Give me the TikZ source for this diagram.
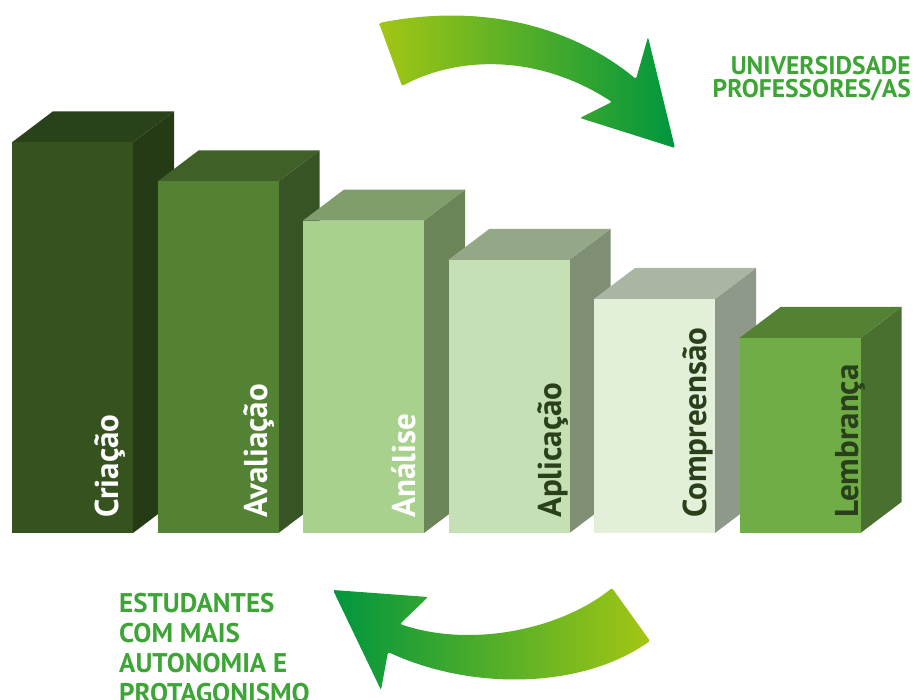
\documentclass[tikz,border=0pt]{standalone}
\usepackage{fontspec}
\setmainfont{PT Sans}
\usepackage{tikz}

\definecolor{verdeclaro}{HTML}{A3C614}
\definecolor{verdeforte}{HTML}{00963E}
\definecolor{verdetexto}{HTML}{3DA535}
\definecolor{escuro}{HTML}{29401A}

% cores dos blocos: frente, topo, lado
\definecolor{f1}{HTML}{36531F}\definecolor{t1}{HTML}{2A421A}\definecolor{l1}{HTML}{253B16}
\definecolor{f2}{HTML}{548235}\definecolor{t2}{HTML}{3F6128}\definecolor{l2}{HTML}{375524}
\definecolor{f3}{HTML}{A9D18E}\definecolor{t3}{HTML}{7F9E6B}\definecolor{l3}{HTML}{6B8558}
\definecolor{f4}{HTML}{C5E0B4}\definecolor{t4}{HTML}{94A887}\definecolor{l4}{HTML}{7E8F73}
\definecolor{f5}{HTML}{E2F0D9}\definecolor{t5}{HTML}{AAB5A3}\definecolor{l5}{HTML}{8F998A}
\definecolor{f6}{HTML}{70AD47}\definecolor{t6}{HTML}{548235}\definecolor{l6}{HTML}{4A702F}

% bloco: x esquerdo, y do topo, frente, topo, lado
\newcommand{\bloco}[5]{%
  \fill[#5] (#1+121,#2) -- ++(41,-31) -- (#1+162,502) -- (#1+121,533) -- cycle;
  \fill[#4] (#1,#2) -- ++(41,-31) -- ++(121,0) -- (#1+121,#2) -- cycle;
  \fill[#3] (#1,#2) rectangle (#1+121,533);
}

\begin{document}
\begin{tikzpicture}[x=1pt,y=-1pt,
  rotulo/.style={rotate=90, anchor=base west, inner sep=0pt, font=\fontsize{33}{33}\selectfont\bfseries},
  legenda/.style={inner sep=0pt, text=verdetexto, font=\fontsize{25.5}{24}\selectfont\bfseries},
  seta/.style={rounded corners=2pt}]

	\useasboundingbox (0,0) rectangle (916,700);
	
	\bloco{12}{142.3}{f1}{t1}{l1}
	\bloco{157.5}{181.5}{f2}{t2}{l2}
	\bloco{303}{220.6}{f3}{t3}{l3}
	\bloco{448.5}{259.8}{f4}{t4}{l4}
	\bloco{594}{299}{f5}{t5}{l5}
	\bloco{739.5}{338}{f6}{t6}{l6}
	
	\node[rotulo, text=white] (criacao) at (118.3,518) {Criação};
	\node[rotulo, text=white] (avaliacao) at (267.7,518) {Avaliação};
	\node[rotulo, text=white] (analise) at (415,518) {Análise};
	\node[rotulo, text=escuro] (aplicacao) at (561.7,518) {Aplicação};
	\node[rotulo, text=escuro] (compreensao) at (706.7,518) {Compreensão};
	\node[rotulo, text=escuro] (lembranca) at (858.3,518) {Lembrança};
	
	% setas
	\shade[seta, left color=verdeclaro, right color=verdeforte]
	  (379,23) .. controls (480,3) and (570,25) .. (636,79) -- (648,37) -- (675,148)
	  -- (580,118) -- (612,102) .. controls (540,55) and (460,55) .. (402,86) -- cycle;
	\shade[seta, left color=verdeforte, right color=verdeclaro]
	  (333,590) -- (428,597) -- (400,624) .. controls (470,648) and (560,630) .. (612,588)
	  -- (650,641) .. controls (580,690) and (470,690) .. (388,652) -- (381,690) -- cycle;
	
	\node[legenda, anchor=north east, align=right] (universidade) at (911,56)
	  {UNIVERSIDSADE\\[-1pt]PROFESSORES/AS};
	\node[legenda, anchor=north west, align=left, font=\fontsize{27}{30}\selectfont\bfseries] (estudantes) at (119,593)
	  {ESTUDANTES\\COM MAIS\\AUTONOMIA E\\PROTAGONISMO};
	
\end{tikzpicture}
\end{document}
